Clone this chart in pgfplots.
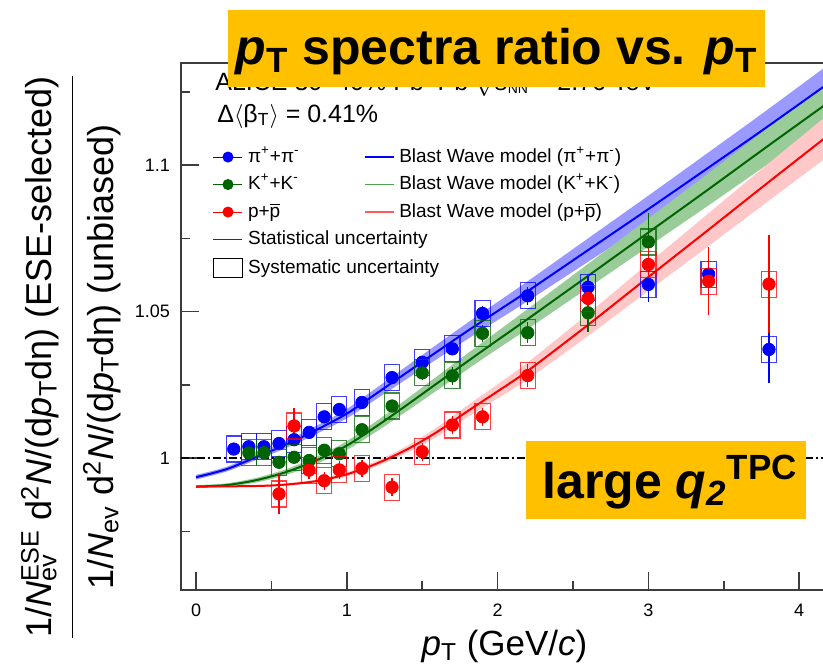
\documentclass[border=0pt]{standalone}
\usepackage{fontspec}
\setmainfont{Liberation Sans}
\usepackage{pgfplots}
\pgfplotsset{compat=1.18}
\usepgfplotslibrary{fillbetween}
\usepackage{pgfplotstable}
\definecolor{orng}{RGB}{255,192,0}
\definecolor{dgreen}{RGB}{0,100,0}
\definecolor{bandB}{RGB}{153,153,255}
\definecolor{bandG}{RGB}{153,204,153}
\definecolor{bandR}{RGB}{255,200,200}
\definecolor{lgreen}{RGB}{80,160,80}
\definecolor{lred}{RGB}{255,90,90}
\definecolor{frame}{RGB}{60,60,60}

\pgfdeclareplotmark{sysbox}{\pgfpathrectangle{\pgfqpoint{-3.8pt}{-6.5pt}}{\pgfqpoint{7.6pt}{13pt}}\pgfusepathqstroke}

% data: x, ratio, stat. uncertainty
\pgfplotstableread{
x y e
0.25 1.0031 0.0015
0.35 1.0039 0.0015
0.45 1.0039 0.0015
0.55 1.0050 0.0015
0.65 1.0063 0.0015
0.75 1.0088 0.0015
0.85 1.0141 0.0015
0.95 1.0166 0.0015
1.1 1.0190 0.0015
1.3 1.0275 0.0015
1.5 1.0327 0.0015
1.7 1.0373 0.0018
1.9 1.0494 0.0025
2.2 1.0554 0.0030
2.6 1.0583 0.0040
3.0 1.0593 0.0060
3.4 1.0628 0.0093
3.8 1.0371 0.0116
}\pidata
\pgfplotstableread{
x y e
0.35 1.0018 0.0015
0.45 1.0019 0.0015
0.55 0.9986 0.0020
0.65 1.0003 0.0020
0.75 0.9992 0.0020
0.85 1.0027 0.0020
0.95 1.0015 0.0020
1.1 1.0097 0.0020
1.3 1.0178 0.0020
1.5 1.0291 0.0025
1.7 1.0281 0.0030
1.9 1.0426 0.0030
2.2 1.0428 0.0035
2.6 1.0496 0.0065
3.0 1.0738 0.0097
}\kadata
\pgfplotstableread{
x y e
0.55 0.9878 0.0070
0.65 1.0110 0.0060
0.75 0.9959 0.0030
0.85 0.9923 0.0030
0.95 0.9960 0.0030
1.1 0.9965 0.0030
1.3 0.9901 0.0030
1.5 1.0022 0.0030
1.7 1.0113 0.0030
1.9 1.0141 0.0030
2.2 1.0282 0.0040
2.6 1.0545 0.0050
3.0 1.0661 0.0083
3.4 1.0604 0.0116
3.8 1.0594 0.0167
}\prdata
% Blast Wave model: x, central, lower, upper
\pgfplotstableread{
x y lo hi
0.0 0.9935 0.9927 0.9943
0.2 0.9962 0.9954 0.9970
0.4 1.0004 0.9994 1.0014
0.6 1.0047 1.0035 1.0059
0.8 1.0097 1.0083 1.0111
1.0 1.0152 1.0136 1.0168
1.2 1.0222 1.0203 1.0241
1.4 1.0293 1.0271 1.0315
1.6 1.0364 1.0339 1.0389
1.8 1.0434 1.0406 1.0462
2.0 1.0502 1.0471 1.0533
2.2 1.0570 1.0536 1.0604
2.6 1.0710 1.0670 1.0750
3.0 1.0850 1.0804 1.0896
3.4 1.0992 1.0940 1.1044
3.8 1.1135 1.1077 1.1193
4.4 1.1355 1.1289 1.1421
}\bwpi
\pgfplotstableread{
x y lo hi
0.0 0.9903 0.9898 0.9908
0.2 0.9908 0.9902 0.9914
0.4 0.9925 0.9917 0.9933
0.6 0.9953 0.9943 0.9963
0.8 0.9993 0.9981 1.0005
1.0 1.0043 1.0028 1.0058
1.2 1.0110 1.0092 1.0128
1.4 1.0182 1.0161 1.0203
1.6 1.0256 1.0232 1.0280
1.8 1.0330 1.0303 1.0357
2.0 1.0403 1.0373 1.0433
2.2 1.0475 1.0441 1.0509
2.6 1.0622 1.0581 1.0663
3.0 1.0770 1.0722 1.0818
3.4 1.0918 1.0863 1.0973
3.8 1.1068 1.1006 1.1130
4.4 1.1290 1.1218 1.1362
}\bwka
\pgfplotstableread{
x y lo hi
0.0 0.9903 0.9900 0.9906
0.4 0.9905 0.9902 0.9908
0.6 0.9910 0.9906 0.9914
0.8 0.9922 0.9917 0.9927
1.0 0.9945 0.9938 0.9952
1.2 0.9982 0.9973 0.9991
1.4 1.0030 1.0018 1.0042
1.6 1.0090 1.0074 1.0106
1.8 1.0160 1.0140 1.0180
2.0 1.0228 1.0204 1.0252
2.2 1.0298 1.0269 1.0327
2.6 1.0455 1.0417 1.0493
3.0 1.0618 1.0571 1.0665
3.4 1.0780 1.0724 1.0836
3.8 1.0943 1.0879 1.1007
4.4 1.1185 1.1110 1.1260
}\bwpr

\newcommand{\pT}{\textit{p}\textsubscript{T}}
\newcommand{\pbar}{$\overline{\mbox{p}}$}
\pgfplotsset{sysleg/.style={legend image code/.code={\draw[black, line width=0.6pt] (0pt,-4.75pt) rectangle (14.5pt,4.75pt);}}}

\begin{document}
\begin{tikzpicture}
\begin{axis}[
  at={(90.5pt,40.5pt)}, anchor=south west,
  scale only axis, width=339.2pt, height=263.7pt,
  xmin=-0.1, xmax=4.4, ymin=0.955, ymax=1.135,
  xtick={0,1,2,3,4}, xticklabels={0,1,2,3,4},
  minor xtick={0.5,1.5,2.5,3.5},
  ytick={1,1.05,1.1}, yticklabels={1,1.05,1.1},
  minor ytick={0.975,1.025,1.075,1.125},
  /pgf/number format/assume math mode=true,
  tick pos=left, tick align=inside,
  major tick length=9pt, minor tick length=4.5pt,
  axis line style={draw=frame, line width=0.9pt},
  tick style={draw=frame, line width=0.8pt},
  xticklabel style={font=\fontsize{9}{11}\selectfont, yshift=-3.5pt},
  yticklabel style={font=\fontsize{9}{11}\selectfont, xshift=-2pt},
  legend columns=2,
  legend cell align=left,
  legend style={draw=none, fill=none, inner sep=0pt, outer sep=0pt,
    at={(0.047,0.838)}, anchor=north west,
    font=\fontsize{9.5}{11}\selectfont,
    column sep=2.5pt, row sep=4.75pt,
    nodes={inner sep=0pt, text height=7pt, text depth=2pt}},
  legend image code/.code={\draw[mark repeat=2,mark phase=2,#1] plot coordinates {(0pt,0pt) (7.25pt,0pt) (14.5pt,0pt)};},
]
% bands
\addplot[draw=none, smooth, name path=pil, forget plot] table[x=x,y=lo]{\bwpi};
\addplot[draw=none, smooth, name path=pih, forget plot] table[x=x,y=hi]{\bwpi};
\addplot[fill=bandB, draw=none, forget plot] fill between[of=pil and pih];
\addplot[draw=none, smooth, name path=kal, forget plot] table[x=x,y=lo]{\bwka};
\addplot[draw=none, smooth, name path=kah, forget plot] table[x=x,y=hi]{\bwka};
\addplot[fill=bandG, draw=none, forget plot] fill between[of=kal and kah];
\addplot[draw=none, smooth, name path=prl, forget plot] table[x=x,y=lo]{\bwpr};
\addplot[draw=none, smooth, name path=prh, forget plot] table[x=x,y=hi]{\bwpr};
\addplot[fill=bandR, draw=none, forget plot] fill between[of=prl and prh];
% unity line
\addplot[black, line width=0.75pt, dash pattern=on 4pt off 1.5pt on 1pt off 1.5pt, forget plot] coordinates {(-0.1,1) (4.4,1)};
% model lines
\addplot[blue, line width=1pt, smooth, forget plot] table[x=x,y=y]{\bwpi};
\addplot[dgreen, line width=1pt, smooth, forget plot] table[x=x,y=y]{\bwka};
\addplot[red, line width=1pt, smooth, forget plot] table[x=x,y=y]{\bwpr};
% data: pions
\addplot[only marks, mark=sysbox, blue, mark options={line width=0.6pt, draw opacity=0.75}, forget plot] table[x=x,y=y]{\pidata};
\addplot[only marks, mark=*, blue, mark size=3.1pt, forget plot,
  error bars/.cd, y dir=both, y explicit, error mark=none,
  error bar style={line width=0.7pt}] table[x=x,y=y,y error=e]{\pidata};
% kaons
\addplot[only marks, mark=sysbox, dgreen, mark options={line width=0.6pt, draw opacity=0.75}, forget plot] table[x=x,y=y]{\kadata};
\addplot[only marks, mark=*, dgreen, mark size=3.1pt, forget plot,
  error bars/.cd, y dir=both, y explicit, error mark=none,
  error bar style={line width=0.7pt}] table[x=x,y=y,y error=e]{\kadata};
% protons
\addplot[only marks, mark=sysbox, red, mark options={line width=0.6pt, draw opacity=0.75}, forget plot] table[x=x,y=y]{\prdata};
\addplot[only marks, mark=*, red, mark size=3.1pt, forget plot,
  error bars/.cd, y dir=both, y explicit, error mark=none,
  error bar style={line width=0.7pt}] table[x=x,y=y,y error=e]{\prdata};

% legend
\addlegendimage{blue, mark=*, mark size=2.5pt, line width=0.5pt}
\addlegendentry{\makebox[55.5pt][l]{π\textsuperscript{+}+π\textsuperscript{-}}}
\addlegendimage{blue, line width=0.6pt}
\addlegendentry{Blast Wave model (π\textsuperscript{+}+π\textsuperscript{-})}
\addlegendimage{dgreen, mark=*, mark size=2.5pt, line width=0.5pt}
\addlegendentry{\makebox[55.5pt][l]{K\textsuperscript{+}+K\textsuperscript{-}}}
\addlegendimage{lgreen, line width=0.6pt}
\addlegendentry{Blast Wave model (K\textsuperscript{+}+K\textsuperscript{-})}
\addlegendimage{red, mark=*, mark size=2.5pt, line width=0.5pt}
\addlegendentry{\makebox[55.5pt][l]{p+\pbar}}
\addlegendimage{lred, line width=0.6pt}
\addlegendentry{Blast Wave model (p+\pbar)}
\addlegendimage{black!80, line width=0.6pt}
\addlegendentry{\makebox[55.5pt][l]{Statistical uncertainty}}
\addlegendimage{empty legend}
\addlegendentry{}
\addlegendimage{sysleg}
\addlegendentry{\makebox[55.5pt][l]{Systematic uncertainty}}
\end{axis}

% header texts
\node[anchor=base west, inner sep=0pt, font=\fontsize{12.5}{14}\selectfont] at (107.5pt,290.5pt)
  {ALICE 30--40\% Pb--Pb $\sqrt{\mbox{\textit{s}}_{\mbox{\scriptsize NN}}}$ = 2.76 TeV};
\node[anchor=base west, inner sep=0pt, font=\fontsize{12.5}{14}\selectfont] at (108.5pt,274.5pt)
  {Δ$\langle$β\textsubscript{T}$\rangle$ = 0.41\%};

% axis titles
\node[anchor=base, inner sep=0pt, font=\fontsize{17.5}{20}\selectfont] at (252.25pt,8pt)
  {\textit{p}\textsubscript{T} (GeV/\textit{c})};
\node[rotate=90, anchor=center, inner sep=0pt, font=\fontsize{18}{22}\selectfont] at (36pt,157pt)
  {\setlength{\tabcolsep}{0pt}\renewcommand{\arraystretch}{1.15}%
   \begin{tabular}{c}
   1/\textit{N}\rlap{\textsubscript{ev}}\textsuperscript{ESE} d\textsuperscript{2}\textit{N}/(d\pT dη) (ESE-selected)\\[3pt]
   \hline
   \rule{0pt}{20pt}1/\textit{N}\textsubscript{ev} d\textsuperscript{2}\textit{N}/(d\pT dη) (unbiased)
   \end{tabular}};

% orange boxes
\fill[orng] (114pt,292pt) rectangle (382.5pt,330.5pt);
\node[anchor=base, inner sep=0pt, font=\fontsize{25}{30}\selectfont\bfseries] at (248.25pt,303pt)
  {\textit{p}\textsubscript{T} spectra ratio vs. \textit{p}\textsubscript{T}};
\fill[orng] (263pt,76pt) rectangle (403pt,115pt);
\node[anchor=base, inner sep=0pt, font=\fontsize{25}{30}\selectfont\bfseries] at (335pt,86.5pt)
  {large \textit{q\textsubscript{2}}\textsuperscript{TPC}};
\pgfresetboundingbox
\path[use as bounding box] (0,0) rectangle (411.5pt,335.5pt);
\end{tikzpicture}
\end{document}
